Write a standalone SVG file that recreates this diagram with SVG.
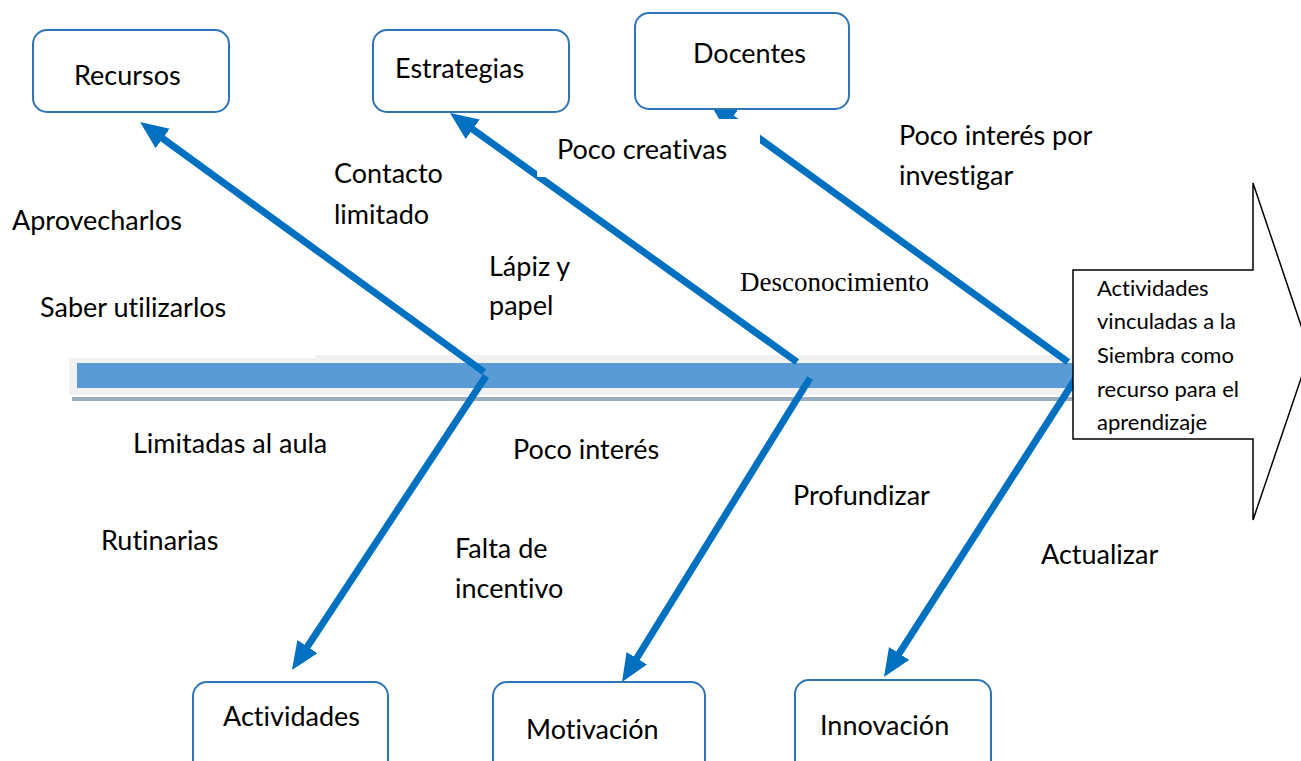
<svg xmlns="http://www.w3.org/2000/svg" width="1301" height="761" viewBox="0 0 1301 761">
<style>
.lbl{font-family:Lato,"Open Sans","Liberation Sans",sans-serif;font-size:27px;fill:#000;font-variant-ligatures:none}
.blk{font-family:Lato,"Open Sans","Liberation Sans",sans-serif;font-size:22px;fill:#000;font-variant-ligatures:none}
.ser{font-family:"Liberation Serif","Times New Roman",serif;font-size:27px;fill:#000}
.box{fill:#fff;stroke:#2e75b6;stroke-width:2}
.bone{stroke:#0070c0;stroke-width:7;fill:none;marker-end:url(#ah)}
</style>
<defs>
<marker id="ah" markerUnits="userSpaceOnUse" markerWidth="30" markerHeight="26" refX="18" refY="12" orient="auto">
<path d="M0,0 L28,12 L0,24 z" fill="#0070c0"/>
</marker>
</defs>
<rect width="1301" height="761" fill="#fff"/>
<g id="spine">
<rect x="69" y="358" width="1004" height="37" fill="#f1f1f1"/>
<rect x="315" y="355" width="758" height="6" fill="#f1f1f1"/>
<rect x="77" y="363" width="996" height="25" fill="#5b9bd5"/>
<rect x="72" y="397" width="1001" height="4" fill="#9cadc0"/>
</g>
<g id="connectors">
<line class="bone" x1="484" y1="372" x2="148.1" y2="127.9"/>
<line class="bone" x1="797" y1="362" x2="458.1" y2="118.8"/>
<line class="bone" x1="1068" y1="362" x2="717.1" y2="107.9"/>
<line class="bone" x1="486" y1="376" x2="297.5" y2="661.6"/>
<line class="bone" x1="810" y1="378" x2="627.3" y2="673.5"/>
<line class="bone" x1="1076" y1="378" x2="889.4" y2="668.6"/>
</g>
<g id="effect">
<polygon points="1073,270 1253,270 1253,183 1310,352 1253,520 1253,439 1073,439" fill="#fff" stroke="#000" stroke-width="1.5"/>
<text class="blk" x="1097" y="296">Actividades</text>
<text class="blk" x="1097" y="329">vinculadas a la</text>
<text class="blk" x="1097" y="363">Siembra como</text>
<text class="blk" x="1097" y="397">recurso para el</text>
<text class="blk" x="1097" y="430">aprendizaje</text>
</g>
<g id="recursos"><rect class="box" x="33" y="30" width="196" height="82" rx="14"/><text class="lbl" x="74" y="85">Recursos</text></g>
<g id="estrategias"><rect class="box" x="373" y="30" width="196" height="82" rx="14"/><text class="lbl" x="395" y="78">Estrategias</text></g>
<g id="docentes"><rect class="box" x="635" y="13" width="214" height="96" rx="14"/><text class="lbl" x="693" y="63">Docentes</text></g>
<g id="actividades"><rect class="box" x="193" y="682" width="195" height="95" rx="14"/><text class="lbl" x="223" y="726">Actividades</text></g>
<g id="motivacion"><rect class="box" x="493" y="682" width="212" height="95" rx="14"/><text class="lbl" x="526" y="739">Motivación</text></g>
<g id="innovacion"><rect class="box" x="795" y="680" width="196" height="95" rx="14"/><text class="lbl" x="820" y="735">Innovación</text></g>
<g id="labels">
<rect x="537" y="119" width="223" height="58" fill="#fff"/>
<text class="lbl" x="557" y="159">Poco creativas</text>
<text class="lbl" x="899" y="145">Poco interés por</text>
<text class="lbl" x="899" y="185">investigar</text>
<text class="lbl" x="334" y="183">Contacto</text>
<text class="lbl" x="334" y="224">limitado</text>
<text class="lbl" x="12" y="230">Aprovecharlos</text>
<text class="lbl" x="489" y="276">Lápiz y</text>
<text class="lbl" x="489" y="315">papel</text>
<text class="lbl" x="40" y="317">Saber utilizarlos</text>
<text class="ser" x="740" y="291">Desconocimiento</text>
<text class="lbl" x="133" y="453">Limitadas al aula</text>
<text class="lbl" x="513" y="459">Poco interés</text>
<text class="lbl" x="793" y="505">Profundizar</text>
<text class="lbl" x="101" y="550">Rutinarias</text>
<text class="lbl" x="455" y="558">Falta de</text>
<text class="lbl" x="455" y="598">incentivo</text>
<text class="lbl" x="1041" y="564">Actualizar</text>
</g>
</svg>
